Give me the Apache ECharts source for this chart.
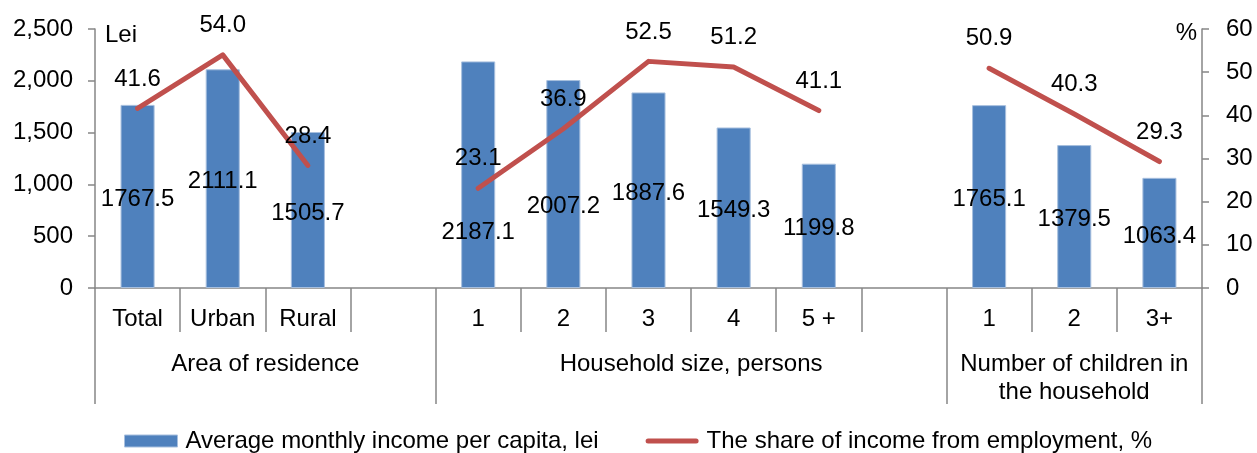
<!DOCTYPE html>
<html>
<head>
<meta charset="utf-8">
<script src="https://cdn.jsdelivr.net/npm/echarts@6/dist/echarts.min.js"></script>
<style>
html,body{margin:0;padding:0;background:#fff;}
#chart{width:1257px;height:453px;}
</style>
</head>
<body>
<div id="chart"></div>
<script>
// ---- data ----
const categories = ['Total', 'Urban', 'Rural', '', '1', '2', '3', '4', '5 +', '', '1', '2', '3+'];
const incomeValues = [1767.5, 2111.1, 1505.7, null, 2187.1, 2007.2, 1887.6, 1549.3, 1199.8, null, 1765.1, 1379.5, 1063.4];
const employmentShare = [41.6, 54.0, 28.4, null, 23.1, 36.9, 52.5, 51.2, 41.1, null, 50.9, 40.3, 29.3];
const groupNames = ['Area of residence', 'Household size, persons', 'Number of children in\nthe household'];
const groupSizes = [4, 6, 3];
const seriesNames = ['Average monthly income per capita, lei', 'The share of income from employment, %'];
const leftAxisName = 'Lei';
const rightAxisName = '%';

// ---- build ----
const FONT = 'Liberation Sans, Arial, sans-serif';
const FS = 24;
const AXIS_COLOR = '#868686';
const BAR_COLOR = '#4F81BD';
const LINE_COLOR = '#C0504D';

// group axis on half-slot grid
const nHalf = categories.length * 2;
const groupAxisData = new Array(nHalf + 1).fill('');
const boundaryIdx = [0];
let start = 0;
groupSizes.forEach((size, gi) => {
  const end = start + size;
  groupAxisData[start + end] = groupNames[gi];
  boundaryIdx.push(end * 2);
  start = end;
});

// per-bar label shifts (layout only)
const barLabelShift = {4: 58, 5: 22};
const barData = incomeValues.map((v, i) => v == null ? null : {
  value: v,
  label: {offset: [0, barLabelShift[i] != null ? barLabelShift[i] : 3]}
});

const chart = echarts.init(document.getElementById('chart'), null, {renderer: 'canvas'});
chart.setOption({
  animation: false,
  textStyle: {fontFamily: FONT, fontSize: FS, color: '#000'},
  grid: {left: 95, right: 55, top: 29, bottom: 165, containLabel: false},
  legend: {
    left: 119, top: 424,
    itemWidth: 53, itemHeight: 12, itemGap: 47,
    textStyle: {fontFamily: FONT, fontSize: FS, color: '#000', padding: [0, 0, 0, 3]},
    data: [
      {name: seriesNames[0], icon: 'rect', itemStyle: {color: BAR_COLOR, borderColor: '#A7BFDE', borderWidth: 1}},
      {name: seriesNames[1], icon: 'path://M2.5,0 H50.5 A2.5,2.5 0 0 1 50.5,5 H2.5 A2.5,2.5 0 0 1 2.5,0 Z',
        itemStyle: {color: LINE_COLOR, borderWidth: 0}}
    ]
  },
  xAxis: [{
    type: 'category',
    data: categories,
    axisLine: {show: true, lineStyle: {color: AXIS_COLOR, width: 1.5}},
    axisTick: {show: true, interval: 0, length: 44, alignWithLabel: false, lineStyle: {color: AXIS_COLOR, width: 1.5}},
    axisLabel: {interval: 0, margin: 19, fontFamily: FONT, fontSize: FS, color: '#000'}
  }, {
    type: 'category',
    data: groupAxisData,
    boundaryGap: false,
    position: 'bottom',
    axisLine: {show: false},
    axisTick: {show: true, length: 116, interval: (i) => boundaryIdx.indexOf(i) >= 0, lineStyle: {color: AXIS_COLOR, width: 1.5}},
    axisLabel: {interval: (i, v) => v !== '', margin: 62, fontFamily: FONT, fontSize: FS, color: '#000', lineHeight: 28, align: 'center'}
  }],
  yAxis: [{
    type: 'value', min: 0, max: 2500, interval: 500,
    name: leftAxisName, nameLocation: 'end', nameGap: -6,
    nameTextStyle: {fontFamily: FONT, fontSize: FS, color: '#000', align: 'left', verticalAlign: 'middle', padding: [0, 0, 0, 10]},
    axisLine: {show: true, lineStyle: {color: AXIS_COLOR, width: 1.5}},
    axisTick: {show: true, length: 7, lineStyle: {color: AXIS_COLOR, width: 1.5}},
    splitLine: {show: false},
    axisLabel: {margin: 22, fontFamily: FONT, fontSize: FS, color: '#000',
      formatter: (v) => v.toLocaleString('en-US')}
  }, {
    type: 'value', min: 0, max: 60, interval: 10, position: 'right',
    name: rightAxisName, nameLocation: 'end', nameGap: -4,
    nameTextStyle: {fontFamily: FONT, fontSize: FS, color: '#000', align: 'right', verticalAlign: 'middle', padding: [0, 5, 0, 0]},
    axisLine: {show: true, lineStyle: {color: AXIS_COLOR, width: 1.5}},
    axisTick: {show: true, length: 7, lineStyle: {color: AXIS_COLOR, width: 1.5}},
    splitLine: {show: false},
    axisLabel: {margin: 24, fontFamily: FONT, fontSize: FS, color: '#000'}
  }],
  series: [{
    name: seriesNames[0],
    type: 'bar',
    xAxisIndex: 0, yAxisIndex: 0,
    data: barData,
    barWidth: '40%',
    itemStyle: {color: BAR_COLOR, borderColor: '#A7BFDE', borderWidth: 1},
    label: {show: true, position: 'inside', fontFamily: FONT, fontSize: FS, color: '#000',
      formatter: (p) => p.value.toFixed(1)}
  }, {
    name: seriesNames[1],
    type: 'line',
    xAxisIndex: 0, yAxisIndex: 1,
    data: employmentShare,
    connectNulls: false,
    symbol: 'circle',
    symbolSize: 1,
    showSymbol: true,
    lineStyle: {color: LINE_COLOR, width: 5, cap: 'round', join: 'round'},
    itemStyle: {color: LINE_COLOR},
    label: {show: true, position: 'top', distance: 17, fontFamily: FONT, fontSize: FS, color: '#000',
      formatter: (p) => p.value.toFixed(1)}
  }]
});
</script>
</body>
</html>
